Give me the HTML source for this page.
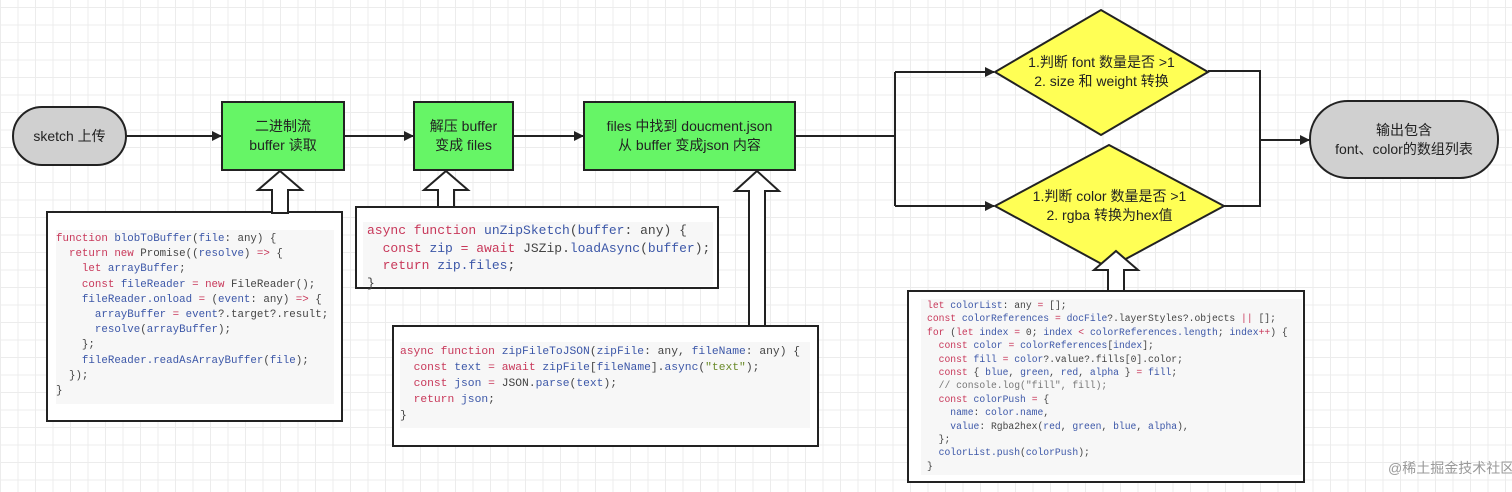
<!DOCTYPE html>
<html><head><meta charset="utf-8"><style>
body{margin:0;width:1512px;height:492px;overflow:hidden;background:#fff;position:relative;font-family:"Liberation Sans","Noto Sans CJK SC",sans-serif}
.grid{position:absolute;inset:0;background-image:linear-gradient(#ececec 1px,transparent 1px),linear-gradient(90deg,#ececec 1px,transparent 1px);background-size:17.5px 17.5px;background-position:0 7px}
.lbl{position:absolute;display:flex;align-items:center;justify-content:center;text-align:center;font-size:14px;color:#222;line-height:19px}
.code{position:absolute;background:#fff;border:2px solid #222;box-sizing:border-box}
.code pre{position:absolute;margin:0;font-family:"Liberation Mono",monospace;color:#444;background:#f7f7f7}
.k{color:#c8385a}.b{color:#3c57a8}.g{color:#6a8a2a}.c{color:#777}
</style></head><body>
<div class="grid"></div>
<svg width="1512" height="492" style="position:absolute;left:0;top:0">
<defs><marker id="a" markerWidth="10" markerHeight="10" refX="9" refY="5" orient="auto" markerUnits="userSpaceOnUse"><path d="M0,0 L10,5 L0,10 z" fill="#222"/></marker></defs>
<g stroke="#222" stroke-width="2" fill="none">
<rect x="13" y="107" width="113" height="58" rx="29" fill="#d0d0d0"/>
<line x1="126" y1="136" x2="221" y2="136" marker-end="url(#a)"/>
<rect x="222" y="102" width="122" height="68" fill="#66f566"/>
<line x1="344" y1="136" x2="413" y2="136" marker-end="url(#a)"/>
<rect x="414" y="102" width="99" height="68" fill="#66f566"/>
<line x1="513" y1="136" x2="583" y2="136" marker-end="url(#a)"/>
<rect x="584" y="102" width="211" height="68" fill="#66f566"/>
<polyline points="795,136 895,136"/>
<polyline points="895,72 895,206"/>
<line x1="895" y1="72" x2="994" y2="72" marker-end="url(#a)"/>
<line x1="895" y1="206" x2="994" y2="206" marker-end="url(#a)"/>
<polygon points="995,72 1101,10 1208,72 1101,135" fill="#ffff55"/>
<polygon points="995,206 1109,145 1224,206 1109,268" fill="#ffff55"/>
<polyline points="1208,71 1260,71 1260,206 1224,206"/>
<line x1="1260" y1="140" x2="1309" y2="140" marker-end="url(#a)"/>
<rect x="1310" y="101" width="188" height="77" rx="38" fill="#d0d0d0"/>
</g>
</svg>
<div class="lbl" style="left:13px;top:107px;width:113px;height:58px">sketch 上传</div>
<div class="lbl" style="left:222px;top:102px;width:122px;height:68px">二进制流<br>buffer 读取</div>
<div class="lbl" style="left:414px;top:102px;width:99px;height:68px">解压 buffer<br>变成 files</div>
<div class="lbl" style="left:584px;top:102px;width:211px;height:68px">files 中找到 doucment.json<br>从 buffer 变成json 内容</div>
<div class="lbl" style="left:995px;top:40px;width:213px;height:64px">1.判断 font 数量是否 &gt;1<br>2. size 和 weight 转换</div>
<div class="lbl" style="left:995px;top:174px;width:229px;height:64px">1.判断 color 数量是否 &gt;1<br>2. rgba 转换为hex值</div>
<div class="lbl" style="left:1310px;top:101px;width:188px;height:77px">输出包含<br>font、color的数组列表</div>

<div class="code" style="left:46px;top:211px;width:297px;height:211px"><pre style="left:8px;top:17px;width:278px;height:172px;font-size:10.8px;line-height:15.2px;padding-top:2px"><span class="k">function</span> <span class="b">blobToBuffer</span>(<span class="b">file</span>: any) {
  <span class="k">return new</span> Promise((<span class="b">resolve</span>) <span class="k">=&gt;</span> {
    <span class="k">let</span> <span class="b">arrayBuffer</span>;
    <span class="k">const</span> <span class="b">fileReader</span> <span class="k">=</span> <span class="k">new</span> FileReader();
    <span class="b">fileReader.onload</span> <span class="k">=</span> (<span class="b">event</span>: any) <span class="k">=&gt;</span> {
      <span class="b">arrayBuffer</span> <span class="k">=</span> <span class="b">event</span>?.target?.result;
      <span class="b">resolve</span>(<span class="b">arrayBuffer</span>);
    };
    <span class="b">fileReader.readAsArrayBuffer</span>(<span class="b">file</span>);
  });
}</pre></div>

<div class="code" style="left:355px;top:206px;width:364px;height:83px"><pre style="left:6px;top:14px;width:346px;height:64px;font-size:13px;line-height:17.5px;padding-left:4px"><span class="k">async function</span> <span class="b">unZipSketch</span>(<span class="b">buffer</span>: any) {
  <span class="k">const</span> <span class="b">zip</span> <span class="k">= await</span> JSZip.<span class="b">loadAsync</span>(<span class="b">buffer</span>);
  <span class="k">return</span> <span class="b">zip.files</span>;
}</pre></div>

<div class="code" style="left:392px;top:325px;width:427px;height:122px"><pre style="left:6px;top:15px;width:410px;height:84px;font-size:11.3px;line-height:16px;padding-top:2px"><span class="k">async function</span> <span class="b">zipFileToJSON</span>(<span class="b">zipFile</span>: any, <span class="b">fileName</span>: any) {
  <span class="k">const</span> <span class="b">text</span> <span class="k">= await</span> <span class="b">zipFile</span>[<span class="b">fileName</span>].<span class="b">async</span>(<span class="g">"text"</span>);
  <span class="k">const</span> <span class="b">json</span> <span class="k">=</span> JSON.<span class="b">parse</span>(<span class="b">text</span>);
  <span class="k">return</span> <span class="b">json</span>;
}</pre></div>

<div class="code" style="left:907px;top:290px;width:398px;height:193px"><pre style="left:12px;top:7px;width:375px;height:176px;font-size:9.7px;line-height:13.4px;padding-left:6px"><span class="k">let</span> <span class="b">colorList</span>: any <span class="k">=</span> [];
<span class="k">const</span> <span class="b">colorReferences</span> <span class="k">=</span> <span class="b">docFile</span>?.layerStyles?.objects <span class="k">||</span> [];
<span class="k">for</span> (<span class="k">let</span> <span class="b">index</span> <span class="k">=</span> 0; <span class="b">index</span> <span class="k">&lt;</span> <span class="b">colorReferences.length</span>; <span class="b">index</span><span class="k">++</span>) {
  <span class="k">const</span> <span class="b">color</span> <span class="k">=</span> <span class="b">colorReferences</span>[<span class="b">index</span>];
  <span class="k">const</span> <span class="b">fill</span> <span class="k">=</span> <span class="b">color</span>?.value?.fills[0].color;
  <span class="k">const</span> { <span class="b">blue</span>, <span class="b">green</span>, <span class="b">red</span>, <span class="b">alpha</span> } <span class="k">=</span> <span class="b">fill</span>;
  <span class="c">// console.log("fill", fill);</span>
  <span class="k">const</span> <span class="b">colorPush</span> <span class="k">=</span> {
    <span class="b">name</span>: <span class="b">color.name</span>,
    <span class="b">value</span>: Rgba2hex(<span class="b">red</span>, <span class="b">green</span>, <span class="b">blue</span>, <span class="b">alpha</span>),
  };
  <span class="b">colorList.push</span>(<span class="b">colorPush</span>);
}</pre></div>

<svg width="1512" height="492" style="position:absolute;left:0;top:0">
<g stroke="#222" stroke-width="2" fill="#fff" stroke-linejoin="miter">
<polygon points="280,171 302,190 288,190 288,213 272,213 272,190 258,190"/>
<polygon points="446,171 468,190 454,190 454,207 438,207 438,190 424,190"/>
<polygon points="757,171 779,191 765,191 765,326 749,326 749,191 735,191"/>
<polygon points="1116,251 1138,270 1124,270 1124,291 1108,291 1108,270 1094,270"/>
</g>
</svg>
<div style="position:absolute;left:1388px;top:458px;font-size:14px;color:#999;white-space:nowrap">@稀土掘金技术社区</div>
</body></html>
